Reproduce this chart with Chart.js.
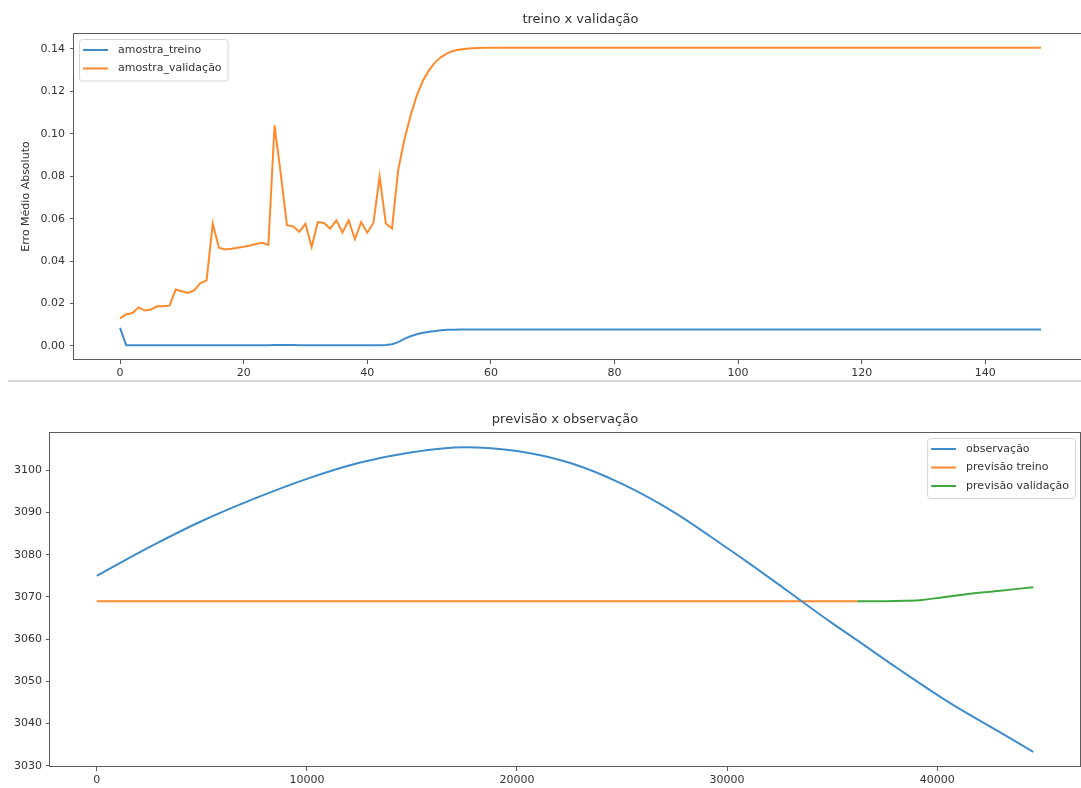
<!DOCTYPE html>
<html>
<head>
<meta charset="utf-8">
<script src="https://cdn.jsdelivr.net/npm/chart.js@4.4.1/dist/chart.umd.min.js"></script>
<style>
  html, body { margin: 0; padding: 0; background: #fff; overflow: hidden; width: 1081px; height: 788px; }
  #lossChart { position: absolute; left: 0; top: 0; }
  #forecastChart { position: absolute; left: 0; top: 392px; }
  .sep { position: absolute; left: 8px; width: 1073px; height: 2px; background: #d6d6d6; }
</style>
</head>
<body>
<canvas id="lossChart" width="1100" height="392"></canvas>
<div class="sep" style="top:380px"></div>
<canvas id="forecastChart" width="1081" height="396"></canvas>
<script>
// ---- Training history: mean absolute error per epoch ----
const trainLoss = [
  0.0085, 0.0004, 0.0004, 0.0004, 0.0004, 0.0004, 0.0004, 0.0004, 0.0004, 0.0004,
  0.0004, 0.0004, 0.0004, 0.0004, 0.0004, 0.0004, 0.0004, 0.0004, 0.0004, 0.0004,
  0.0004, 0.0004, 0.0004, 0.0004, 0.0004, 0.0005, 0.0005, 0.0005, 0.0005, 0.0004,
  0.0004, 0.0004, 0.0004, 0.0004, 0.0004, 0.0004, 0.0004, 0.0004, 0.0004, 0.0004,
  0.0004, 0.0004, 0.0004, 0.0005, 0.0008, 0.0018, 0.0034, 0.0046, 0.0055, 0.0062,
  0.0067, 0.0071, 0.0074, 0.0076, 0.0077, 0.0078, 0.0078, 0.0078, 0.0078, 0.0078,
  0.0078, 0.0078, 0.0078, 0.0078, 0.0078, 0.0078, 0.0078, 0.0078, 0.0078, 0.0078,
  0.0078, 0.0078, 0.0078, 0.0078, 0.0078, 0.0078, 0.0078, 0.0078, 0.0078, 0.0078,
  0.0078, 0.0078, 0.0078, 0.0078, 0.0078, 0.0078, 0.0078, 0.0078, 0.0078, 0.0078,
  0.0078, 0.0078, 0.0078, 0.0078, 0.0078, 0.0078, 0.0078, 0.0078, 0.0078, 0.0078,
  0.0078, 0.0078, 0.0078, 0.0078, 0.0078, 0.0078, 0.0078, 0.0078, 0.0078, 0.0078,
  0.0078, 0.0078, 0.0078, 0.0078, 0.0078, 0.0078, 0.0078, 0.0078, 0.0078, 0.0078,
  0.0078, 0.0078, 0.0078, 0.0078, 0.0078, 0.0078, 0.0078, 0.0078, 0.0078, 0.0078,
  0.0078, 0.0078, 0.0078, 0.0078, 0.0078, 0.0078, 0.0078, 0.0078, 0.0078, 0.0078,
  0.0078, 0.0078, 0.0078, 0.0078, 0.0078, 0.0078, 0.0078, 0.0078, 0.0078, 0.0078
];
const valLoss = [
  0.0130, 0.0150, 0.0155, 0.0182, 0.0167, 0.0172, 0.0187, 0.0187, 0.0190, 0.0266,
  0.0258, 0.0250, 0.0262, 0.0297, 0.0308, 0.0577, 0.0463, 0.0455, 0.0458, 0.0463,
  0.0468, 0.0474, 0.0481, 0.0486, 0.0476, 0.1040, 0.0812, 0.0569, 0.0564, 0.0538,
  0.0576, 0.0467, 0.0584, 0.0580, 0.0553, 0.0592, 0.0535, 0.0592, 0.0503, 0.0584,
  0.0534, 0.0580, 0.0798, 0.0577, 0.0553, 0.0829, 0.0972, 0.1085, 0.1180, 0.1250,
  0.1300, 0.1338, 0.1363, 0.1380, 0.1391, 0.1397, 0.1401, 0.1403, 0.1404, 0.1405,
  0.1405, 0.1405, 0.1405, 0.1405, 0.1405, 0.1405, 0.1405, 0.1405, 0.1405, 0.1405,
  0.1405, 0.1405, 0.1405, 0.1405, 0.1405, 0.1405, 0.1405, 0.1405, 0.1405, 0.1405,
  0.1405, 0.1405, 0.1405, 0.1405, 0.1405, 0.1405, 0.1405, 0.1405, 0.1405, 0.1405,
  0.1405, 0.1405, 0.1405, 0.1405, 0.1405, 0.1405, 0.1405, 0.1405, 0.1405, 0.1405,
  0.1405, 0.1405, 0.1405, 0.1405, 0.1405, 0.1405, 0.1405, 0.1405, 0.1405, 0.1405,
  0.1405, 0.1405, 0.1405, 0.1405, 0.1405, 0.1405, 0.1405, 0.1405, 0.1405, 0.1405,
  0.1405, 0.1405, 0.1405, 0.1405, 0.1405, 0.1405, 0.1405, 0.1405, 0.1405, 0.1405,
  0.1405, 0.1405, 0.1405, 0.1405, 0.1405, 0.1405, 0.1405, 0.1405, 0.1405, 0.1405,
  0.1405, 0.1405, 0.1405, 0.1405, 0.1405, 0.1405, 0.1405, 0.1405, 0.1405, 0.1405
];
const epochTicks = [0, 20, 40, 60, 80, 100, 120, 140];
const lossTicks = [0.00, 0.02, 0.04, 0.06, 0.08, 0.10, 0.12, 0.14];

// ---- Series: observed values vs. predictions ----
const obsIndex = [0, 2500, 5000, 7500, 10000, 12500, 15000, 17500, 20000, 22500, 25000,
                  27500, 30000, 30900, 32500, 33600, 35000, 36200, 38200, 40600, 43000, 44570];
const obsValue = [3075.0, 3081.8, 3088.0, 3093.3, 3098.0, 3101.8, 3104.3, 3105.5, 3104.6, 3101.8, 3096.8,
                  3090.0, 3081.6, 3078.5, 3072.8, 3068.8, 3063.8, 3059.7, 3052.8, 3044.9, 3037.9, 3033.3];
const trainPredIndex = [0, 36190];
const trainPredValue = [3069.0, 3069.0];
const valPredIndex = [36190, 37500, 38500, 39300, 40200, 41000, 42000, 43000, 44570];
const valPredValue = [3069.0, 3069.0, 3069.1, 3069.3, 3069.9, 3070.4, 3071.0, 3071.5, 3072.3];
const sampleTicks = [0, 10000, 20000, 30000, 40000];
const priceTicks = [3030, 3040, 3050, 3060, 3070, 3080, 3090, 3100];

const BLUE = '#3f8ccb', ORANGE = '#ff8a2b', GREEN = '#3fa83f';
const FONT = '"DejaVu Sans", "Liberation Sans", sans-serif';
const TEXT = '#333';
const AXIS = '#5c5c5c';

const toPoints = (xs, ys) => ys.map((y, i) => ({ x: xs[i], y }));

// Frame, title and boxed legend drawn around each plot area
const mplDecor = {
  id: 'mplDecor',
  afterDraw(chart, args, opts) {
    const { ctx, chartArea: a } = chart;
    ctx.save();
    ctx.strokeStyle = AXIS;
    ctx.lineWidth = 1;
    ctx.strokeRect(Math.round(a.left) - 0.5, Math.round(a.top) + 0.5,
                   Math.round(a.right - a.left) + 1, Math.round(a.bottom - a.top) - 1);

    ctx.fillStyle = TEXT;
    ctx.font = '13px ' + FONT;
    ctx.textAlign = 'center';
    ctx.textBaseline = 'middle';
    ctx.fillText(opts.title, (a.left + a.right) / 2, a.top - opts.titleGap);

    const items = chart.data.datasets;
    ctx.font = '11px ' + FONT;
    const maxW = Math.max(...items.map(d => ctx.measureText(d.label).width));
    const boxW = 4 + 25 + 10 + maxW + 6;
    const boxH = 11 + 18.5 * (items.length - 1) + 12;
    const bx = opts.align === 'left' ? a.left + 5 : a.right - 5 - boxW;
    const by = a.top + 6;
    ctx.beginPath();
    ctx.roundRect(bx + 0.5, by + 0.5, boxW, boxH, 3);
    ctx.fillStyle = 'rgba(255,255,255,0.85)';
    ctx.fill();
    ctx.strokeStyle = '#d5d5d5';
    ctx.stroke();
    items.forEach((d, i) => {
      const y = by + 11 + 18.5 * i;
      ctx.strokeStyle = d.borderColor;
      ctx.lineWidth = 2;
      ctx.beginPath();
      ctx.moveTo(bx + 4, y);
      ctx.lineTo(bx + 29, y);
      ctx.stroke();
      ctx.fillStyle = TEXT;
      ctx.textAlign = 'left';
      ctx.textBaseline = 'middle';
      ctx.fillText(d.label, bx + 39, y);
    });
    ctx.restore();
  }
};
Chart.register(mplDecor);

const tickFont = { family: FONT, size: 11 };
const axisGrid = { display: true, drawOnChartArea: false, drawTicks: true, tickLength: 4, color: AXIS, tickWidth: 1 };
const noBorder = { display: false };

function lineSet(label, pts, color, smooth) {
  return {
    label, data: pts, borderColor: color, backgroundColor: color, borderWidth: 2,
    pointRadius: 0, tension: smooth ? 0.4 : 0, cubicInterpolationMode: smooth ? 'monotone' : 'default', fill: false
  };
}

const epochs = trainLoss.map((_, i) => i);

new Chart(document.getElementById('lossChart'), {
  type: 'line',
  data: {
    datasets: [
      lineSet('amostra_treino', toPoints(epochs, trainLoss), BLUE, false),
      lineSet('amostra_validação', toPoints(epochs, valLoss), ORANGE, false)
    ]
  },
  options: {
    responsive: false, animation: false, devicePixelRatio: 1,
    layout: { padding: { top: 33, right: 13, left: 0, bottom: 0 } },
    plugins: {
      legend: { display: false }, tooltip: { enabled: false },
      mplDecor: { title: 'treino x validação', titleGap: 13, align: 'left' }
    },
    scales: {
      x: {
        type: 'linear', min: -7.45, max: 156.45,
        afterBuildTicks: s => { s.ticks = epochTicks.map(v => ({ value: v })); },
        afterFit: s => { s.height = 32; },
        ticks: { font: tickFont, color: TEXT, padding: 3, maxRotation: 0, callback: v => String(v) },
        grid: axisGrid, border: noBorder
      },
      y: {
        type: 'linear', min: -0.0066, max: 0.1475,
        afterBuildTicks: s => { s.ticks = lossTicks.map(v => ({ value: v })); },
        afterFit: s => { s.width = 74; },
        ticks: { font: tickFont, color: TEXT, padding: 5, callback: v => v.toFixed(2) },
        grid: axisGrid, border: noBorder,
        title: { display: true, text: 'Erro Médio Absoluto', color: TEXT, font: { family: FONT, size: 11 }, padding: { top: 20, bottom: 0 } }
      }
    }
  }
});

new Chart(document.getElementById('forecastChart'), {
  type: 'line',
  data: {
    datasets: [
      lineSet('observação', toPoints(obsIndex, obsValue), BLUE, true),
      lineSet('previsão treino', toPoints(trainPredIndex, trainPredValue), ORANGE, false),
      lineSet('previsão validação', toPoints(valPredIndex, valPredValue), GREEN, true)
    ]
  },
  options: {
    responsive: false, animation: false, devicePixelRatio: 1,
    layout: { padding: { top: 40, right: 1, left: 0, bottom: 0 } },
    plugins: {
      legend: { display: false }, tooltip: { enabled: false },
      mplDecor: { title: 'previsão x observação', titleGap: 12, align: 'right' }
    },
    scales: {
      x: {
        type: 'linear', min: -2228, max: 46798,
        afterBuildTicks: s => { s.ticks = sampleTicks.map(v => ({ value: v })); },
        afterFit: s => { s.height = 21; },
        ticks: { font: tickFont, color: TEXT, padding: 3, maxRotation: 0, callback: v => String(v) },
        grid: axisGrid, border: noBorder
      },
      y: {
        type: 'linear', min: 3029.7, max: 3109.1,
        afterBuildTicks: s => { s.ticks = priceTicks.map(v => ({ value: v })); },
        afterFit: s => { s.width = 50; },
        ticks: { font: tickFont, color: TEXT, padding: 4, callback: v => String(v) },
        grid: axisGrid, border: noBorder
      }
    }
  }
});
</script>
</body>
</html>
